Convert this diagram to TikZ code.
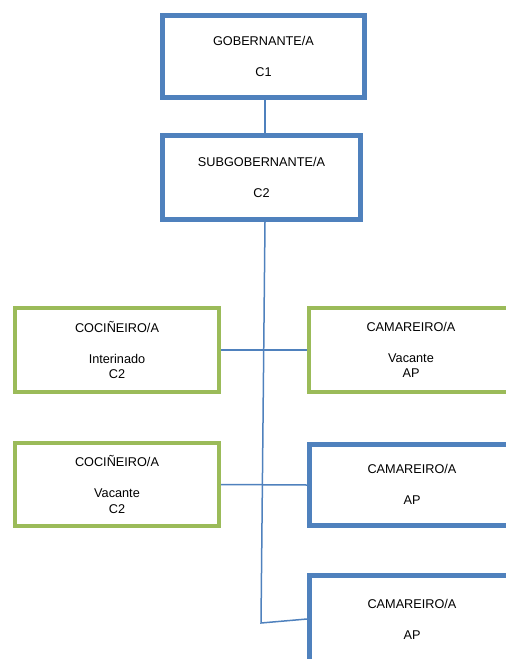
\documentclass[tikz,border=0pt]{standalone}
\usepackage{fontspec}
\setmainfont{Liberation Sans}
\definecolor{boxblue}{HTML}{4F81BD}
\definecolor{boxgreen}{HTML}{9BBB59}
\begin{document}
\begin{tikzpicture}[x=1pt,y=-1pt,
  txt/.style={align=center, inner sep=0pt, font=\fontsize{12.7}{15.5}\selectfont, text=black},
  box/.style={draw, rectangle, txt},
  bluebox/.style={box, draw=boxblue, line width=5pt},
  greenbox/.style={box, draw=boxgreen, line width=4pt},
  link/.style={draw=boxblue, line width=1.5pt}]
\useasboundingbox (0,0) rectangle (506,659);
\node[bluebox, minimum width=202pt, minimum height=82pt] (gob) at (263.5,56.5) {GOBERNANTE/A\\[15.5pt]C1};
\node[bluebox, minimum width=198pt, minimum height=84pt] (sub) at (261.5,177.5) {SUBGOBERNANTE/A\\[15.5pt]C2};
\node[greenbox, minimum width=204pt, minimum height=84pt] (coc1) at (117,350) {COCIÑEIRO/A\\[15.5pt]Interinado\\C2};
\node[greenbox, minimum width=204pt, minimum height=83pt] (coc2) at (117,484.5) {COCIÑEIRO/A\\[15.5pt]Vacante\\C2};
% right-hand boxes run past the right margin
\node[greenbox, minimum width=231pt, minimum height=84pt] (cam1) at (424.5,350) {};
\node[txt] (cam1t) at (411,350) {CAMAREIRO/A\\[15.5pt]Vacante\\AP};
\node[bluebox, minimum width=230pt, minimum height=81pt] (cam2) at (424.5,485) {};
\node[txt] (cam2t) at (412,484) {CAMAREIRO/A\\[15.5pt]AP};
\node[bluebox, minimum width=230pt, minimum height=87pt] (cam3) at (424.5,619) {};
\node[txt] (cam3t) at (412,619) {CAMAREIRO/A\\[15.5pt]AP};
\coordinate (bend) at (261,623);
\draw[link] ([xshift=1.5pt]gob.south) -- ([xshift=3.5pt]sub.north);
\draw[link] ([xshift=3.5pt]sub.south) -- (bend) -- (cam3.west);
\draw[link] (coc1.east) -- (cam1.west);
\draw[link] (coc2.east) -- (cam2.west);
\end{tikzpicture}
\end{document}
